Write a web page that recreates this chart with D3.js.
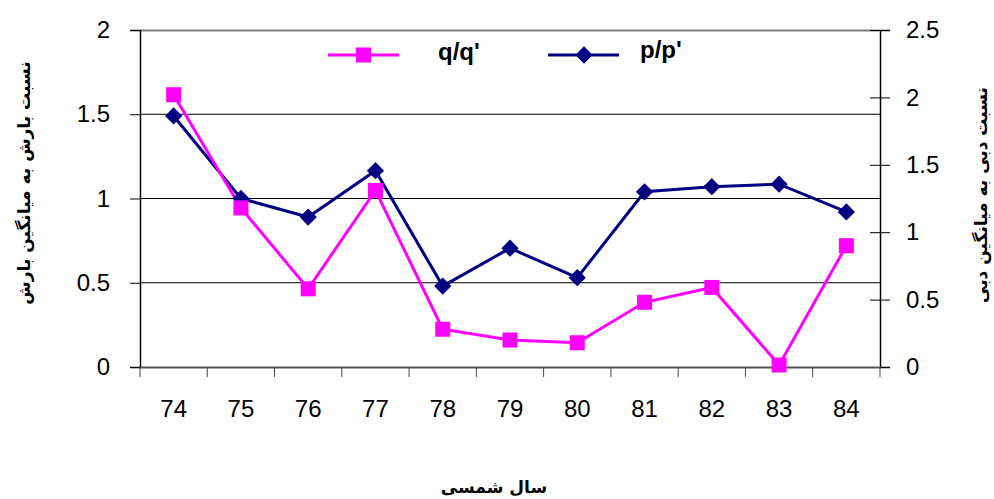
<!DOCTYPE html>
<html>
<head>
<meta charset="utf-8">
<script src="https://cdn.jsdelivr.net/npm/d3@7"></script>
<style>
  body { margin: 0; background: #fff; }
  svg { display: block; }
</style>
</head>
<body>
<div id="chart"></div>
<script>
// Data
const years = ["74", "75", "76", "77", "78", "79", "80", "81", "82", "83", "84"];
const qRatio = [2.02, 1.18, 0.58, 1.31, 0.28, 0.20, 0.18, 0.48, 0.59, 0.015, 0.90]; // right axis
const pRatio = [1.49, 1.00, 0.89, 1.165, 0.48, 0.705, 0.53, 1.04, 1.07, 1.085, 0.92]; // left axis
const leftTicks = [0, 0.5, 1, 1.5, 2];
const rightTicks = [0, 0.5, 1, 1.5, 2, 2.5];

const W = 994, H = 499;
const margin = { top: 30, right: 114, bottom: 132, left: 140 },
    width = W - margin.left - margin.right,
    height = H - margin.top - margin.bottom;

const svg = d3.select("#chart").append("svg")
    .attr("width", W)
    .attr("height", H);

const g = svg.append("g")
    .attr("transform", `translate(${margin.left},${margin.top})`);

// Scales
const x = d3.scaleBand().domain(years).range([0, width]);
const yL = d3.scaleLinear().domain([0, 2]).range([height, 0]);
const yR = d3.scaleLinear().domain([0, 2.5]).range([height, 0]);

const numFont = "'Liberation Sans', Arial, sans-serif";
const faFont = "'DejaVu Sans', sans-serif";

// Gridlines
g.append("g")
    .selectAll("line")
    .data(leftTicks.filter(d => d > 0 && d < 2))
    .join("line")
    .attr("x1", 0).attr("x2", width)
    .attr("y1", d => yL(d)).attr("y2", d => yL(d))
    .attr("stroke", "#000").attr("stroke-width", 1);

// Plot border top
g.append("line").attr("x1", 0).attr("x2", width).attr("y1", 0.5).attr("y2", 0.5)
    .attr("stroke", "#808080").attr("stroke-width", 2);

// Left axis
const axL = g.append("g")
    .call(d3.axisLeft(yL).tickValues(leftTicks).tickSize(10).tickPadding(20).tickFormat(d3.format("")));
axL.select(".domain").attr("stroke", "#000").attr("stroke-width", 1.5);
axL.selectAll("text").style("font-family", numFont).style("font-size", "24px").attr("fill", "#000");

// Right axis (cross ticks)
const axR = g.append("g")
    .attr("transform", `translate(${width},0)`)
    .call(d3.axisRight(yR).tickValues(rightTicks).tickSize(10).tickPadding(16).tickFormat(d3.format("")));
axR.select(".domain").attr("stroke", "#000").attr("stroke-width", 1.5);
axR.selectAll(".tick line").attr("x1", -10);
axR.selectAll("text").style("font-family", numFont).style("font-size", "24px").attr("fill", "#000");

// Bottom axis, ticks between categories
const axB = g.append("g")
    .attr("transform", `translate(0,${height})`)
    .call(d3.axisBottom(x).tickSize(0).tickPadding(33));
axB.select(".domain").attr("stroke", "#555").attr("stroke-width", 2);
axB.selectAll("text").style("font-family", numFont).style("font-size", "24px").attr("fill", "#000");
axB.selectAll(".sep")
    .data(d3.range(years.length + 1))
    .join("line")
    .attr("class", "sep")
    .attr("x1", i => i * x.step()).attr("x2", i => i * x.step())
    .attr("y1", 0).attr("y2", 10)
    .attr("stroke", "#444").attr("stroke-width", 1);

// Lines
const cx = d => x(d) + x.bandwidth() / 2;

const qLine = d3.line().x((d, i) => cx(years[i])).y(d => yR(d));
const pLine = d3.line().x((d, i) => cx(years[i])).y(d => yL(d));

g.append("path").datum(pRatio)
    .attr("d", pLine).attr("fill", "none")
    .attr("stroke", "#000080").attr("stroke-width", 3);

g.append("path").datum(qRatio)
    .attr("d", qLine).attr("fill", "none")
    .attr("stroke", "#FF00FF").attr("stroke-width", 3);

// Markers
const diamond = d3.symbol().type(d3.symbolDiamond2).size(190);

g.selectAll(".pdot")
    .data(pRatio)
    .join("path")
    .attr("class", "pdot")
    .attr("d", diamond)
    .attr("transform", (d, i) => `translate(${cx(years[i])},${yL(d)})`)
    .attr("fill", "#000080");

g.selectAll(".qdot")
    .data(qRatio)
    .join("rect")
    .attr("class", "qdot")
    .attr("x", (d, i) => cx(years[i]) - 7.5)
    .attr("y", d => yR(d) - 7.5)
    .attr("width", 15).attr("height", 15)
    .attr("fill", "#FF00FF");

// Legend
const legend = svg.append("g");
legend.append("line").attr("x1", 328).attr("x2", 399).attr("y1", 55).attr("y2", 55)
    .attr("stroke", "#FF00FF").attr("stroke-width", 3);
legend.append("rect").attr("x", 356).attr("y", 47.5).attr("width", 15).attr("height", 15)
    .attr("fill", "#FF00FF");
legend.append("text").attr("x", 438).attr("y", 60).text("q/q'")
    .style("font-family", numFont).style("font-size", "24px").style("font-weight", "bold");

legend.append("line").attr("x1", 548).attr("x2", 619).attr("y1", 55).attr("y2", 55)
    .attr("stroke", "#000080").attr("stroke-width", 3);
legend.append("path").attr("d", diamond).attr("transform", "translate(584,55)")
    .attr("fill", "#000080");
legend.append("text").attr("x", 640).attr("y", 58).text("p/p'")
    .style("font-family", numFont).style("font-size", "24px").style("font-weight", "bold");

// Axis titles
svg.append("text")
    .attr("transform", "translate(30,183) rotate(-90)")
    .attr("text-anchor", "middle")
    .style("font-family", faFont).style("font-size", "17px").style("font-weight", "bold")
    .text("نسبت بارش به میانگین بارش");

svg.append("text")
    .attr("transform", "translate(987,195) rotate(-90)")
    .attr("text-anchor", "middle")
    .style("font-family", faFont).style("font-size", "17px").style("font-weight", "bold")
    .text("نسبت دبی به میانگین دبی");

svg.append("text")
    .attr("x", 494).attr("y", 493)
    .attr("text-anchor", "middle")
    .style("font-family", faFont).style("font-size", "17px").style("font-weight", "bold")
    .text("سال شمسی");
</script>
</body>
</html>
